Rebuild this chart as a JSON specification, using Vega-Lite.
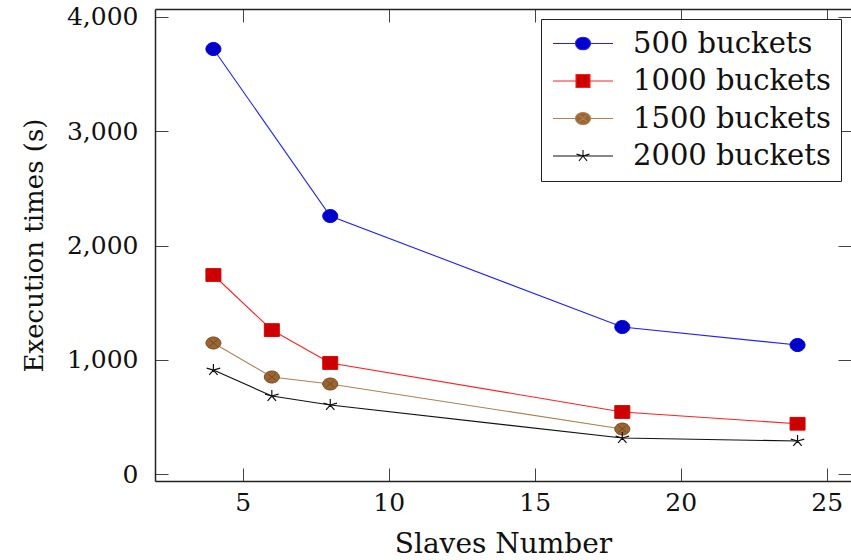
{
  "$schema": "https://vega.github.io/schema/vega-lite/v6.json",
  "width": 696,
  "height": 472,
  "autosize": {"type": "none"},
  "padding": {"left": 155, "top": 9, "right": 0, "bottom": 79},
  "background": "white",
  "config": {
    "view": {"stroke": null},
    "axis": {"grid": false, "labelFont": "DejaVu Serif", "titleFont": "DejaVu Serif", "labelColor": "#111", "titleColor": "#111", "titleFontWeight": "normal", "domainColor": "#222", "domainWidth": 1.5, "tickColor": "#444", "tickWidth": 1},
    "legend": {"labelFont": "DejaVu Serif"}
  },
  "data": {
    "values": [
      {"series": "500 buckets", "slaves": 4, "time": 3720},
      {"series": "500 buckets", "slaves": 8, "time": 2258},
      {"series": "500 buckets", "slaves": 18, "time": 1287},
      {"series": "500 buckets", "slaves": 24, "time": 1129},
      {"series": "1000 buckets", "slaves": 4, "time": 1742},
      {"series": "1000 buckets", "slaves": 6, "time": 1260},
      {"series": "1000 buckets", "slaves": 8, "time": 972},
      {"series": "1000 buckets", "slaves": 18, "time": 543},
      {"series": "1000 buckets", "slaves": 24, "time": 440},
      {"series": "1500 buckets", "slaves": 4, "time": 1147},
      {"series": "1500 buckets", "slaves": 6, "time": 849},
      {"series": "1500 buckets", "slaves": 8, "time": 788},
      {"series": "1500 buckets", "slaves": 18, "time": 394},
      {"series": "2000 buckets", "slaves": 4, "time": 910},
      {"series": "2000 buckets", "slaves": 6, "time": 683},
      {"series": "2000 buckets", "slaves": 8, "time": 604},
      {"series": "2000 buckets", "slaves": 18, "time": 315},
      {"series": "2000 buckets", "slaves": 24, "time": 289}
    ]
  },
  "resolve": {"axis": {"x": "independent", "y": "independent"}},
  "layer": [
    {
      "mark": {"type": "line", "strokeWidth": 1.1},
      "encoding": {
        "x": {"field": "slaves", "type": "quantitative", "scale": {"domain": [2, 25.83], "nice": false, "zero": false},
          "axis": {"orient": "bottom", "values": [5, 10, 15, 20, 25], "tickSize": -13, "labelPadding": 22, "labelFontSize": 25, "title": "Slaves Number", "titleFontSize": 28, "titleBaseline": "alphabetic", "titleY": 71}},
        "y": {"field": "time", "type": "quantitative", "scale": {"domain": [-61, 4070], "nice": false, "zero": false},
          "axis": {"orient": "left", "values": [0, 1000, 2000, 3000, 4000], "format": ",.0f", "tickSize": -13, "labelPadding": 30, "labelFontSize": 25, "title": "Execution times (s)", "titleFontSize": 26, "titleAngle": -90, "titleBaseline": "alphabetic", "titleAlign": "center", "titleX": -113, "titleY": 236}},
        "color": {"field": "series", "type": "nominal",
          "scale": {"domain": ["500 buckets", "1000 buckets", "1500 buckets", "2000 buckets"], "range": ["#2020ff", "#ff2020", "#b08050", "#111111"]},
          "legend": {
            "title": null,
            "orient": "top-right",
            "offset": 10,
            "strokeColor": "#222",
            "fillColor": "white",
            "padding": 10,
            "labelFontSize": 29,
            "labelFont": "DejaVu Serif",
            "labelColor": "#111",
            "labelLimit": 400,
            "symbolSize": 100,
            "labelOffset": 53,
            "rowPadding": 7.5,
            "encode": {
              "symbols": {
                "update": {
                  "x": {"value": 32},
                  "shape": {"signal": "datum.value == '500 buckets' ? 'M-6,0H-1.5M1.5,0H6M-1.5,0A1.5,1.26 0 1,0 1.5,0A1.5,1.26 0 1,0 -1.5,0Z' : datum.value == '1000 buckets' ? 'M-6,0H-1.4M1.4,0H6M-1.4,-1.3H1.4V1.3H-1.4Z' : datum.value == '1500 buckets' ? 'M-6,0H-1.5M1.5,0H6M-1.5,0A1.5,1.2 0 1,0 1.5,0A1.5,1.2 0 1,0 -1.5,0ZM-0.85,-0.68L0.85,0.68M-0.85,0.68L0.85,-0.68' : 'M-6,0H6M0,0L0,-1.2M0,0L1.3,-0.37M0,0L0.8,0.97M0,0L-0.8,0.97M0,0L-1.3,-0.37'"},
                  "fill": {"signal": "datum.value == '500 buckets' ? '#0000cc' : datum.value == '1000 buckets' ? '#cc0000' : datum.value == '1500 buckets' ? '#996633' : '#111111'"},
                  "stroke": {"signal": "datum.value == '500 buckets' ? '#2020ff' : datum.value == '1000 buckets' ? '#ff2020' : datum.value == '1500 buckets' ? '#a07040' : '#111111'"},
                  "strokeWidth": {"value": 1.1},
                  "opacity": {"value": 1},
                  "fillOpacity": {"value": 1}
                }
              }
            }
          }},
        "detail": {"field": "series"}
      }
    },
    {
      "transform": [{"filter": "datum.series == '500 buckets'"}],
      "mark": {"type": "point", "filled": true, "opacity": 1, "size": 225, "strokeWidth": 1, "fill": "#0000cc", "stroke": "#0000dd",
        "shape": "M-1,0A1,0.87 0 1,0 1,0A1,0.87 0 1,0 -1,0Z"},
      "encoding": {
        "x": {"field": "slaves", "type": "quantitative", "axis": null},
        "y": {"field": "time", "type": "quantitative", "axis": null}
      }
    },
    {
      "transform": [{"filter": "datum.series == '1000 buckets'"}],
      "mark": {"type": "point", "filled": true, "opacity": 1, "size": 225, "strokeWidth": 1, "fill": "#cc0000", "stroke": "#dd0000",
        "shape": "M-1,-0.85H1V0.85H-1Z"},
      "encoding": {
        "x": {"field": "slaves", "type": "quantitative", "axis": null},
        "y": {"field": "time", "type": "quantitative", "axis": null}
      }
    },
    {
      "transform": [{"filter": "datum.series == '1500 buckets'"}],
      "mark": {"type": "point", "filled": true, "opacity": 1, "size": 225, "strokeWidth": 1, "fill": "#996633", "stroke": "#7a4a20",
        "shape": "M-1,0A1,0.8 0 1,0 1,0A1,0.8 0 1,0 -1,0ZM-0.55,-0.45L0.55,0.45M-0.55,0.45L0.55,-0.45"},
      "encoding": {
        "x": {"field": "slaves", "type": "quantitative", "axis": null},
        "y": {"field": "time", "type": "quantitative", "axis": null}
      }
    },
    {
      "transform": [{"filter": "datum.series == '2000 buckets'"}],
      "mark": {"type": "point", "filled": false, "opacity": 1, "size": 225, "strokeWidth": 1.2, "stroke": "#111111",
        "shape": "M0,0L0,-0.8M0,0L0.9,-0.25M0,0L0.56,0.65M0,0L-0.56,0.65M0,0L-0.9,-0.25"},
      "encoding": {
        "x": {"field": "slaves", "type": "quantitative", "axis": null},
        "y": {"field": "time", "type": "quantitative", "axis": null}
      }
    },
    {
      "mark": {"type": "point", "opacity": 0},
      "encoding": {
        "x": {"field": "slaves", "type": "quantitative",
          "axis": {"orient": "top", "values": [5, 10, 15, 20, 25], "tickSize": -13, "labels": false, "title": null, "domain": true}},
        "y": {"field": "time", "type": "quantitative",
          "axis": {"orient": "right", "values": [0, 1000, 2000, 3000, 4000], "tickSize": -13, "labels": false, "title": null, "domain": false}}
      }
    }
  ]
}
